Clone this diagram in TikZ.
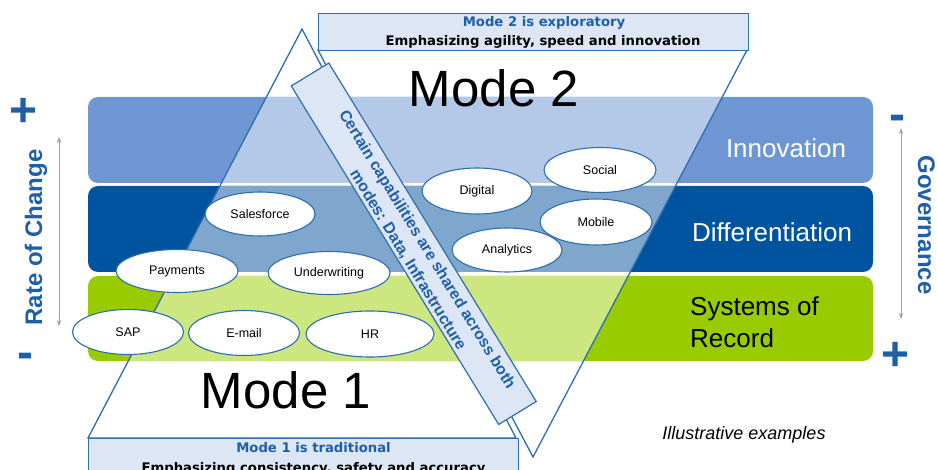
\documentclass[tikz,border=0pt]{standalone}
\usepackage{fontspec}
\setmainfont{Liberation Sans}
\newfontfamily\dvb{DejaVu Sans}
\usetikzlibrary{shapes.geometric,arrows.meta}
\definecolor{innoD}{HTML}{6E96D3}
\definecolor{innoL}{HTML}{B4C8E8}
\definecolor{diffD}{HTML}{00549F}
\definecolor{diffL}{HTML}{7FA7CD}
\definecolor{sorD}{HTML}{99CC00}
\definecolor{sorL}{HTML}{CCE680}
\definecolor{lineB}{HTML}{2E6EAE}
\definecolor{txtB}{HTML}{1F5FA8}
\definecolor{boxF}{HTML}{DCE6F4}
\definecolor{arrG}{HTML}{A0A0A0}
\tikzset{
  tri/.style={draw=lineB, line width=1.3pt},
  ell/.style={ellipse, draw=lineB, line width=1.1pt, fill=white, inner sep=0pt, font=\fontsize{12.5}{14}\selectfont},
  modebox/.style={draw=lineB, line width=1.2pt, fill=boxF, inner sep=0pt},
  boxtxtB/.style={font=\dvb\bfseries\fontsize{13.2}{15}\selectfont, text=txtB, inner sep=0pt, anchor=base},
  boxtxtK/.style={font=\dvb\bfseries\fontsize{13.2}{15}\selectfont, text=black, inner sep=0pt, anchor=base},
  bigmode/.style={font=\fontsize{51}{56}\selectfont, inner sep=0pt, anchor=base},
  bandtxt/.style={font=\fontsize{26}{31}\selectfont, inner sep=0pt},
  axistxt/.style={font=\bfseries\fontsize{24}{28}\selectfont, text=txtB, inner sep=0pt, anchor=base},
  pm/.style={font=\bfseries\fontsize{48}{50}\selectfont, text=txtB, inner sep=0pt},
  axisarrow/.style={draw=arrG, line width=0.8pt, {Stealth[length=6pt,width=4.5pt]}-{Stealth[length=6pt,width=4.5pt]}},
  strip/.style={draw=lineB, line width=1.2pt, fill=boxF, inner sep=0pt},
  striptext/.style={text=txtB, font=\bfseries\fontsize{15.8}{18}\selectfont, inner sep=0pt, anchor=base},
}
\begin{document}
\begin{tikzpicture}[x=1pt,y=-1pt]
\useasboundingbox (0,0) rectangle (937,470);
% triangle corners
\coordinate (m1a) at (302,29);
\coordinate (m1b) at (88,438);
\coordinate (m1c) at (516,438);
\coordinate (m2a) at (318,50);
\coordinate (m2b) at (747,50);
\coordinate (m2c) at (533,457);
% bands
\fill[innoD, rounded corners=10pt] (88,97) rectangle (873,183);
\fill[diffD, rounded corners=10pt] (88,186) rectangle (873,272);
\fill[sorD, rounded corners=10pt] (88,276) rectangle (873,361);
\begin{scope}
  \clip[rounded corners=10pt] (88,97) rectangle (873,183);
  \fill[innoL] (m1a) -- (m1b) -- (m1c) -- cycle;
  \fill[innoL] (m2a) -- (m2b) -- (m2c) -- cycle;
\end{scope}
\begin{scope}
  \clip[rounded corners=10pt] (88,186) rectangle (873,272);
  \fill[diffL] (m1a) -- (m1b) -- (m1c) -- cycle;
  \fill[diffL] (m2a) -- (m2b) -- (m2c) -- cycle;
\end{scope}
\begin{scope}
  \clip[rounded corners=10pt] (88,276) rectangle (873,361);
  \fill[sorL] (m1a) -- (m1b) -- (m1c) -- cycle;
  \fill[sorL] (m2a) -- (m2b) -- (m2c) -- cycle;
\end{scope}
% band labels
\node[bandtxt, text=white, anchor=base] (inno) at (786,158) {Innovation};
\node[bandtxt, text=white, anchor=base] (diff) at (772,242) {Differentiation};
\node[bandtxt, text=black, anchor=base west] (sor1) at (690,316) {Systems of};
\node[bandtxt, text=black, anchor=base west] (sor2) at (690,347) {Record};
% triangle outlines
\draw[tri] (m1a) -- (m1b) -- (m1c) -- cycle;
\draw[tri] (m2a) -- (m2b) -- (m2c) -- cycle;
% big mode labels
\node[bigmode] (mode2) at (494,107) {Mode 2};
\node[bigmode] (mode1) at (286,408) {Mode 1};
% ellipses
\node[ell, minimum width=110pt, minimum height=44pt] (sales) at (260,214) {Salesforce};
\node[ell, minimum width=122pt, minimum height=43pt] (pay) at (177,271) {Payments};
\node[ell, minimum width=122pt, minimum height=43pt] (under) at (329,273) {Underwriting};
\node[ell, minimum width=111pt, minimum height=45pt] (sap) at (128,332) {SAP};
\node[ell, minimum width=111pt, minimum height=45pt] (email) at (244,333) {E-mail};
\node[ell, minimum width=128pt, minimum height=46pt] (hr) at (370,334) {HR};
\node[ell, minimum width=110pt, minimum height=46pt] (digital) at (477,191) {Digital};
\node[ell, minimum width=112pt, minimum height=45pt] (social) at (600,170) {Social};
\node[ell, minimum width=112pt, minimum height=46pt] (mobile) at (596,222) {Mobile};
\node[ell, minimum width=110pt, minimum height=44pt] (analytics) at (507,250) {Analytics};
% shared strip
\node[strip, rotate=-58.5, minimum width=397pt, minimum height=44pt] (strip) at (413.75,243.75) {};
\node[striptext, rotate=-58.5] (stripl1) at (423,252) {Certain capabilities are shared across both};
\node[striptext, rotate=-58.5] (stripl2) at (404,262.5) {modes: Data, Infrastructure};
% mode boxes
\node[modebox, minimum width=430pt, minimum height=37pt, anchor=north west] (box2) at (318,13) {};
\node[modebox, minimum width=430pt, minimum height=40pt, anchor=north west] (box1) at (88,438) {};
\node[boxtxtB] (b2a) at (544,27) {Mode 2 is exploratory};
\node[boxtxtK] (b2b) at (543,46) {Emphasizing agility, speed and innovation};
\node[boxtxtB] (b1a) at (313.5,452) {Mode 1 is traditional};
\node[boxtxtK] (b1b) at (313.5,472) {Emphasizing consistency, safety and accuracy};
% axes
\node[pm] (lplus) at (24,112) {+};
\node[pm] (lminus) at (25,361) {-};
\node[pm] (rminus) at (897,123) {-};
\node[pm] (rplus) at (896,356) {+};
\coordinate (la1) at (59,137);
\coordinate (la2) at (59,326);
\coordinate (ra1) at (901,128);
\coordinate (ra2) at (901,319);
\draw[axisarrow] (la1) -- (la2);
\draw[axisarrow] (ra1) -- (ra2);
\node[axistxt, rotate=90] (rate) at (42,237.5) {Rate of Change};
\node[axistxt, rotate=-90] (gov) at (918,225) {Governance};
% note
\node[font=\itshape\fontsize{18}{20}\selectfont, inner sep=0pt, anchor=base] (illus) at (744,439) {Illustrative examples};
\end{tikzpicture}
\end{document}
